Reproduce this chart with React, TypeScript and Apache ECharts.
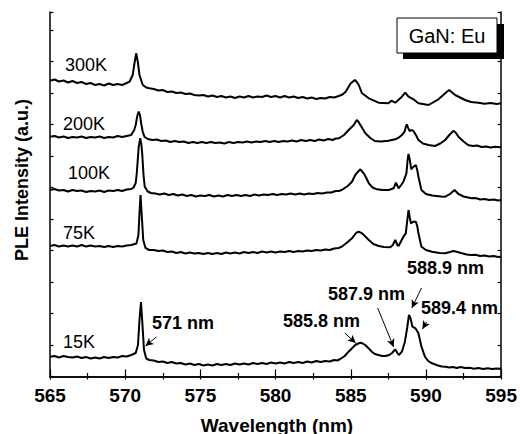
import React, { useEffect, useRef } from "react";
import * as echarts from "echarts";

// Wavelength (nm) vs PLE intensity (a.u., offset traces)
const s15K: [number, number][] = [
  [565.0, 19.8], [565.3, 20.5], [565.6, 19], [565.9, 20.5], [566.2, 19.5], [566.5, 19], [566.8, 20], [567.1, 18.5], [567.4, 19.5], [567.7, 18], [568.0, 19], [568.3, 18], [568.6, 19.5], [568.9, 18.5], [569.2, 19.5], [569.5, 19], [569.8, 20.5], [570.1, 20], [570.4, 21.5], [570.7, 23.5],
  [570.85, 31.5], [570.95, 56.5], [571.05, 74.5], [571.15, 51.5], [571.25, 26.5],
  [571.4, 18], [571.6, 16.5], [571.9, 16], [572.2, 14.5], [572.5, 15], [572.8, 13.5], [573.1, 14.5], [573.4, 13], [573.7, 13.5], [574.0, 12], [574.3, 13], [574.6, 11.5], [574.9, 12.5], [575.2, 11], [575.5, 12], [575.8, 11], [576.1, 12.5], [576.4, 11.5], [576.7, 12.5], [577.0, 11.5], [577.3, 13], [577.6, 12], [577.9, 13], [578.2, 12], [578.5, 13.5], [578.8, 12.5], [579.1, 13.5], [579.4, 12.5], [579.7, 14], [580.0, 13], [580.3, 14], [580.6, 13], [580.9, 14.5], [581.2, 13.5], [581.5, 14.5], [581.8, 13.5], [582.1, 15], [582.4, 14], [582.7, 15.5], [583.0, 14.5], [583.3, 15.5], [583.6, 15], [583.9, 16.5], [584.1, 16],
  [584.3, 17.5], [584.6, 20.5], [584.85, 24.8], [585.1, 28.5], [585.3, 31.5], [585.5, 33], [585.65, 33.8], [585.8, 33], [585.96, 31.5], [586.2, 28], [586.4, 24.8], [586.6, 22.5], [586.84, 21.5], [587.1, 20.5], [587.3, 20.5], [587.55, 21.5], [587.75, 23.5], [587.95, 27.2], [588.1, 23.5], [588.2, 21.5], [588.4, 24.8], [588.6, 34.8], [588.75, 48.5], [588.87, 61.5], [588.97, 58.5], [589.1, 49.8], [589.3, 48.2], [589.5, 43.2], [589.7, 29.8], [589.93, 19.8], [590.15, 15.5], [590.4, 13.2],
  [590.8, 11], [591.05, 10], [591.3, 9.8], [591.55, 9], [591.8, 9.5], [592.05, 8.5], [592.3, 9.5], [592.6, 8.5], [592.9, 8.8], [593.2, 7.8], [593.5, 8.5], [593.8, 7.5], [594.1, 8.2], [594.4, 7.5], [594.7, 8], [595.0, 7.8],
];
const s75K: [number, number][] = [
  [565.0, 130.5], [565.3, 131.5], [565.6, 130], [565.9, 131], [566.2, 130], [566.5, 131], [566.8, 130], [567.1, 131.5], [567.4, 130], [567.7, 131], [568.0, 130], [568.3, 130.5], [568.6, 129.5], [568.9, 130.5], [569.2, 129.5], [569.5, 130.5], [569.8, 130], [570.1, 131], [570.4, 131.5], [570.75, 133],
  [570.88, 141.5], [570.96, 166.5], [571.02, 181.5], [571.1, 161.5], [571.2, 136.5],
  [571.35, 128.5], [571.6, 126.5], [571.9, 126.5], [572.2, 125.5], [572.5, 126], [572.8, 124.5], [573.1, 125], [573.4, 123.5], [573.7, 124.5], [574.0, 123], [574.3, 124], [574.6, 123], [574.9, 123.5], [575.2, 122.5], [575.5, 123.5], [575.8, 122.5], [576.1, 123.5], [576.4, 122.5], [576.7, 124], [577.0, 123], [577.3, 124], [577.6, 123], [577.9, 124.5], [578.2, 123.5], [578.5, 124.5], [578.8, 123.5], [579.1, 125], [579.4, 124], [579.7, 125], [580.0, 124], [580.3, 125], [580.6, 124.5], [580.9, 125.5], [581.2, 124.5], [581.5, 125.5], [581.8, 125], [582.1, 126], [582.4, 125.5], [582.7, 126.5], [583.0, 126], [583.3, 127], [583.6, 126.5], [583.9, 128], [584.2, 128.5],
  [584.4, 129.8], [584.8, 134.5], [585.08, 138.2], [585.35, 143.5], [585.53, 144.8], [585.75, 143.2], [586.0, 139.5], [586.2, 136.5], [586.5, 132.5], [586.86, 130.5], [587.2, 129.5], [587.63, 129.2], [587.8, 131.5], [587.96, 136.5], [588.1, 131.5], [588.18, 130.5], [588.35, 135.5], [588.5, 139.8], [588.66, 143.2], [588.76, 156.5], [588.84, 166.5], [588.93, 158.5], [589.0, 153.2], [589.17, 154.8], [589.33, 154.8], [589.42, 150.5], [589.5, 143.2], [589.7, 129.8], [590.0, 126.5], [590.4, 124.8], [590.9, 123.5], [591.28, 123.2], [591.6, 124.5], [591.83, 125.5], [592.1, 124.5],
  [592.4, 123.2], [592.7, 122], [593.0, 121.5], [593.3, 121.8], [593.6, 120.5], [593.9, 121], [594.2, 120], [594.5, 120.5], [594.8, 119.5], [595.0, 119.8],
];
const s100K: [number, number][] = [
  [565.0, 186.5], [565.3, 187.5], [565.6, 186], [565.9, 186.5], [566.2, 185], [566.5, 186.5], [566.8, 185.5], [567.1, 186], [567.4, 184.5], [567.7, 185.5], [568.0, 185], [568.3, 186], [568.6, 184.5], [568.9, 186], [569.2, 185.5], [569.5, 186.5], [569.8, 185.5], [570.1, 187], [570.4, 187.5], [570.55, 188.8],
  [570.7, 193.5], [570.77, 203.2], [570.9, 229.8], [571.0, 238.2], [571.08, 231.5], [571.13, 223.2], [571.22, 201.5], [571.3, 189.8],
  [571.5, 185], [571.7, 183.5], [572.0, 183], [572.3, 182], [572.6, 183], [572.9, 181.5], [573.2, 182.5], [573.5, 181], [573.8, 182], [574.1, 180.5], [574.4, 181.5], [574.7, 180], [575.0, 181], [575.3, 180.5], [575.6, 181.5], [575.9, 180], [576.2, 181], [576.5, 180], [576.8, 181.5], [577.1, 180.5], [577.4, 181.5], [577.7, 180.5], [578.0, 181.5], [578.3, 180.5], [578.6, 182], [578.9, 181], [579.2, 182], [579.5, 181.5], [579.8, 182.5], [580.1, 181.5], [580.4, 182.5], [580.7, 182], [581.0, 183], [581.3, 182], [581.6, 183], [581.9, 182], [582.2, 183], [582.5, 182.5], [582.8, 183.5], [583.1, 183], [583.4, 184], [583.7, 184], [584.0, 185.5], [584.2, 185.5],
  [584.4, 186.5], [584.8, 190.5], [585.08, 194.8], [585.3, 201.5], [585.48, 204.8], [585.64, 207.2], [585.86, 203.2], [586.0, 199.5], [586.2, 193.2], [586.45, 189], [586.74, 187.2], [587.1, 186.5], [587.52, 186.5], [587.85, 188.2], [588.0, 193.8], [588.18, 188.2], [588.35, 191.5], [588.5, 194.8], [588.7, 203.2], [588.78, 216.5], [588.84, 222.5], [588.93, 216.5], [589.02, 207.2], [589.17, 209.8], [589.33, 211.5], [589.42, 206.5], [589.5, 199.8], [589.7, 186.5], [590.0, 182.5], [590.4, 181], [591.0, 180], [591.28, 179.8], [591.6, 182.5], [591.9, 186.5], [592.16, 182.5],
  [592.5, 180], [592.8, 179], [593.04, 178.2], [593.3, 178.5], [593.6, 177], [593.9, 177.5], [594.2, 176.5], [594.5, 177], [594.8, 176], [595.0, 176.5],
];
const s200K: [number, number][] = [
  [565.0, 239.8], [565.3, 240.5], [565.6, 239], [565.9, 240], [566.2, 238.5], [566.5, 239.5], [566.8, 239], [567.1, 240], [567.4, 238.5], [567.7, 239.5], [568.0, 239], [568.3, 240], [568.6, 238.5], [568.9, 239.5], [569.2, 239], [569.5, 240.5], [569.8, 239.5], [570.1, 240.5], [570.4, 241.5],
  [570.6, 246.5], [570.7, 251.5], [570.8, 260.5], [570.9, 264.8], [570.98, 261.5], [571.06, 253.2], [571.17, 244.5], [571.28, 239.8],
  [571.5, 237.5], [571.8, 236.5], [572.1, 237], [572.4, 235.5], [572.7, 236], [573.0, 234.5], [573.3, 235.5], [573.6, 234.5], [573.9, 235], [574.2, 233.5], [574.5, 234.5], [574.8, 233.5], [575.1, 234.5], [575.4, 233.5], [575.7, 234.5], [576.0, 233.5], [576.3, 234], [576.6, 233], [576.9, 234.5], [577.2, 233.5], [577.5, 234.5], [577.8, 234], [578.1, 235], [578.4, 234], [578.7, 235], [579.0, 234.5], [579.3, 235.5], [579.6, 234.5], [579.9, 235.5], [580.2, 234.5], [580.5, 235.5], [580.8, 235], [581.1, 236], [581.4, 235], [581.7, 236.5], [582.0, 235.5], [582.3, 236.5], [582.6, 235.5], [582.9, 237], [583.2, 236], [583.5, 237.5], [583.8, 236.5], [584.0, 238], [584.2, 238.2],
  [584.55, 241.5], [584.86, 246.5], [585.2, 251.5], [585.4, 256.5], [585.52, 254.5], [585.64, 251.5], [585.8, 247.5], [585.97, 243.2], [586.3, 238.5], [586.6, 235.5], [587.0, 235], [587.5, 235.8], [587.96, 237.2], [588.2, 239], [588.4, 241.5], [588.58, 244.8], [588.66, 249.5], [588.73, 252.2], [588.82, 248.5], [588.9, 245.5], [589.05, 246.5], [589.17, 245.5], [589.35, 241], [589.5, 236.5], [589.8, 233], [590.17, 231.5], [590.6, 230.5], [590.95, 233], [591.28, 236.5], [591.55, 241.5], [591.83, 245.8], [592.0, 243.5], [592.16, 239.8], [592.5, 235],
  [592.8, 231.5], [593.1, 230.5], [593.4, 231], [593.7, 229.5], [594.0, 230], [594.3, 229], [594.6, 229.8], [595.0, 229.2],
];
const s300K: [number, number][] = [
  [565.0, 295.8], [565.3, 297], [565.6, 295], [565.9, 296], [566.2, 294], [566.5, 295.5], [566.8, 293.5], [567.1, 294.5], [567.4, 292.5], [567.7, 293.5], [568.0, 291.5], [568.3, 292.5], [568.6, 291], [568.9, 293], [569.2, 291.5], [569.5, 292.5], [569.8, 291.5], [570.1, 293.5], [570.29, 294.8],
  [570.5, 301.5], [570.62, 313.5], [570.73, 323.2], [570.84, 314.5], [570.95, 301.5], [571.17, 291.5],
  [571.4, 289], [571.6, 288.2], [571.9, 287.5], [572.2, 286], [572.5, 286.5], [572.8, 284.5], [573.1, 285], [573.4, 283.5], [573.7, 284], [574.0, 282.5], [574.3, 283], [574.6, 281.5], [574.9, 281], [575.2, 281.5], [575.5, 280], [575.8, 281], [576.1, 279.5], [576.4, 280.5], [576.7, 279], [577.0, 280], [577.3, 278.5], [577.6, 280], [577.9, 279], [578.2, 280.5], [578.5, 279], [578.8, 280], [579.1, 279.5], [579.4, 281], [579.7, 279.5], [580.0, 280.5], [580.3, 279], [580.6, 280.5], [580.9, 279], [581.2, 280], [581.5, 278.5], [581.8, 279.5], [582.1, 278], [582.4, 279], [582.7, 277.5], [583.0, 278.5], [583.3, 278], [583.6, 279.5], [583.9, 279], [584.2, 280.5],
  [584.45, 282], [584.66, 284.8], [585.0, 293.2], [585.27, 296.5], [585.4, 294.5], [585.53, 291.5], [585.75, 283.2], [586.2, 278.2], [586.85, 273.8], [587.5, 273.2], [587.7, 275.8], [587.96, 273.8], [588.4, 279.8], [588.62, 283.8], [588.84, 279.8], [589.17, 277.2], [589.5, 273.2], [590.17, 271.5], [590.83, 277.2], [591.28, 283.2], [591.54, 286.5], [591.94, 281.5], [592.6, 276.5], [593.0, 274.5], [593.48, 273.8], [593.9, 272.8], [594.3, 273.5], [594.7, 272.6], [595.0, 273.2],
];

const seriesNames = ["15K", "75K", "100K", "200K", "300K"];
const seriesData = [s15K, s75K, s100K, s200K, s300K];

const peakLabels = ["571 nm", "585.8 nm", "587.9 nm", "588.9 nm", "589.4 nm"];
// arrows: [fromX, fromY, toX, toY] in data units
const peakArrows: [number, number, number, number][] = [
  [572.07, 39.5, 571.35, 30.5],
  [584.6, 43.5, 585.33, 33.5],
  [586.79, 68.5, 587.85, 29.5],
  [589.7, 88.5, 589.06, 68.5],
  [590.04, 54.5, 589.77, 47.5],
];

const FONT = '"Liberation Sans", Arial, Helvetica, sans-serif';

export default function App() {
  const ref = useRef<HTMLDivElement>(null);
  useEffect(() => {
    document.body.style.margin = "0";
    const chart = echarts.init(ref.current!, undefined, { renderer: "svg" });
    const axisLineStyle = { color: "#000", width: 1.5 };
    const peakPos = [
      { x: 152, y: 323 },
      { x: 283, y: 321 },
      { x: 328, y: 294 },
      { x: 407, y: 268 },
      { x: 421, y: 308 },
    ];
    const curvePos = [
      { x: 63, y: 342 },
      { x: 63, y: 233 },
      { x: 68, y: 173 },
      { x: 63, y: 124 },
      { x: 65, y: 65 },
    ];
    chart.setOption({
      animation: false,
      grid: { left: 50, right: 17, top: 12, bottom: 57.5, containLabel: false },
      xAxis: [
        {
          type: "value",
          min: 565,
          max: 595,
          interval: 5,
          position: "bottom",
          axisLine: { show: true, lineStyle: axisLineStyle },
          axisTick: { show: true, inside: true, length: 7, lineStyle: { color: "#000", width: 1.2 } },
          minorTick: { show: true, splitNumber: 2, length: 3.5, lineStyle: { color: "#000", width: 1.2 } },
          axisLabel: { color: "#000", fontSize: 19, fontWeight: "bold", fontFamily: FONT, margin: 9 },
          splitLine: { show: false },
        },
        {
          type: "value",
          min: 565,
          max: 595,
          interval: 5,
          position: "top",
          axisLine: { show: true, lineStyle: axisLineStyle },
          axisTick: { show: true, inside: true, length: 3, lineStyle: { color: "#000", width: 1.2 } },
          minorTick: { show: true, splitNumber: 2, length: 3, lineStyle: { color: "#000", width: 1.2 } },
          axisLabel: { show: false },
          splitLine: { show: false },
        },
      ],
      yAxis: [
        {
          type: "value",
          min: 0,
          max: 364.5,
          interval: 31.5,
          position: "left",
          axisLine: { show: true, lineStyle: axisLineStyle },
          axisTick: { show: true, inside: true, length: 3.5, lineStyle: { color: "#000", width: 1.2 } },
          axisLabel: { show: false },
          splitLine: { show: false },
        },
        {
          type: "value",
          min: 0,
          max: 364.5,
          interval: 31.5,
          position: "right",
          axisLine: { show: true, lineStyle: axisLineStyle },
          axisTick: { show: true, inside: true, length: 3.5, lineStyle: { color: "#000", width: 1.2 } },
          axisLabel: { show: false },
          splitLine: { show: false },
        },
      ],
      series: seriesData.map((d, i) => ({
        name: seriesNames[i],
        type: "line",
        data: d,
        showSymbol: false,
        symbol: "none",
        lineStyle: { color: "#000", width: 2 },
        silent: true,
        z: 3,
        markLine:
          i === 0
            ? {
                silent: true,
                symbol: ["none", "arrow"],
                symbolSize: [6, 8],
                label: { show: false },
                lineStyle: { color: "#000", width: 1, type: "solid" },
                data: peakArrows.map((a) => [
                  { coord: [a[0], a[1]] },
                  { coord: [a[2], a[3]] },
                ]),
              }
            : undefined,
      })),
      graphic: {
        elements: [
          {
            id: "legendShadowRight",
            type: "rect",
            x: 497,
            y: 24,
            shape: { x: 0, y: 0, width: 7, height: 35 },
            style: { fill: "#000000" },
            z: 110,
          },
          {
            id: "legendShadowBottom",
            type: "rect",
            x: 403,
            y: 53,
            shape: { x: 0, y: 0, width: 101, height: 6 },
            style: { fill: "#000000" },
            z: 110,
          },
          {
            id: "legendBox",
            type: "rect",
            x: 397,
            y: 18,
            shape: { x: 0, y: 0, width: 100, height: 35 },
            style: { fill: "#ffffff", stroke: "#000000", lineWidth: 1 },
            z: 111,
          },
          {
            type: "text",
            x: 447,
            y: 36,
            z: 112,
            style: {
              text: "GaN: Eu",
              fill: "#000",
              fontSize: 20,
              fontFamily: FONT,
              textAlign: "center",
              textVerticalAlign: "middle",
            },
          },
          ...seriesNames.map((n, i) => ({
            type: "text",
            x: curvePos[i].x,
            y: curvePos[i].y,
            z: 102,
            style: {
              text: n,
              fill: "#000",
              fontSize: 18,
              fontFamily: FONT,
              textAlign: "left",
              textVerticalAlign: "middle",
            },
          })),
          ...peakLabels.map((t, i) => ({
            type: "text",
            x: peakPos[i].x,
            y: peakPos[i].y,
            z: 102,
            style: {
              text: t,
              fill: "#000",
              fontSize: 18,
              fontWeight: "bold",
              fontFamily: FONT,
              textAlign: "left",
              textVerticalAlign: "middle",
            },
          })),
          {
            type: "text",
            x: 277,
            y: 425,
            z: 102,
            style: {
              text: "Wavelength (nm)",
              fill: "#000",
              fontSize: 19,
              fontWeight: "bold",
              fontFamily: FONT,
              textAlign: "center",
              textVerticalAlign: "middle",
            },
          },
          {
            type: "text",
            x: 22,
            y: 180,
            rotation: Math.PI / 2,
            z: 102,
            style: {
              text: "PLE Intensity (a.u.)",
              fill: "#000",
              fontSize: 18,
              fontWeight: "bold",
              fontFamily: FONT,
              textAlign: "center",
              textVerticalAlign: "middle",
            },
          },
        ],
      },
    });
    return () => chart.dispose();
  }, []);
  return <div ref={ref} style={{ width: 520, height: 434 }} />;
}
